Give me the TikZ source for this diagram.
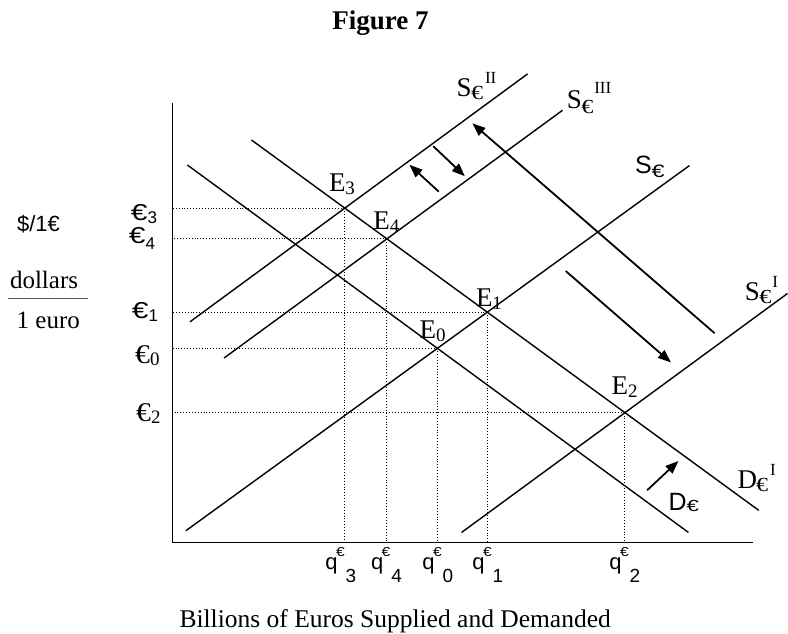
\documentclass[tikz,border=0pt]{standalone}
\usepackage{fontspec}
\usepackage{graphicx}
\setmainfont{Liberation Serif}
\newfontfamily\arialf{Liberation Sans}
\usetikzlibrary{arrows.meta}
\newcommand\myfs[1]{\fontsize{#1}{#1}\selectfont}
\newcommand\weur[1]{\scalebox{#1}[1]{€}}
\newcommand\qlab[1]{{\myfs{22}q}\kern-1.5pt\raisebox{12.8pt}{\myfs{13}\weur{1.2}}\kern1pt\raisebox{-13pt}{\myfs{19}#1}}
\begin{document}
\begin{tikzpicture}[x=1pt,y=-1pt,
  curve/.style={line width=1.4pt},
  axisline/.style={line width=1.6pt},
  guide/.style={line width=0.9pt,dotted},
  shiftarrow/.style={line width=1.8pt,-{Triangle[length=13pt,width=10pt]}},
  lbl/.style={inner sep=0pt,outer sep=0pt},
  serif/.style={lbl,font=\myfs{27}},
  sans/.style={lbl,font=\arialf\myfs{23}},
  qstyle/.style={lbl,anchor=base west,font=\arialf}]
\useasboundingbox (0,0) rectangle (788,634);
% axes
\coordinate (Ytop) at (172.3,103);
\coordinate (O) at (172.3,542.5);
\coordinate (Xend) at (753,542.5);
\draw[axisline] (Ytop) -- (O) -- (Xend);
% curve end points
\coordinate (S0a) at (185.9,530.7); \coordinate (S0b) at (689.4,165.6);
\coordinate (S2a) at (190,321.8);   \coordinate (S2b) at (527.6,73.9);
\coordinate (S3a) at (224.1,358);   \coordinate (S3b) at (562.5,110.3);
\coordinate (S1a) at (461.5,532.5); \coordinate (S1b) at (787.5,293.5);
\coordinate (D0a) at (187.4,165);   \coordinate (D0b) at (688.4,532.4);
\coordinate (D1a) at (251.5,140);   \coordinate (D1b) at (758.8,510.4);
% equilibria
\coordinate (E0) at (intersection of S0a--S0b and D0a--D0b);
\coordinate (E1) at (intersection of S0a--S0b and D1a--D1b);
\coordinate (E2) at (intersection of S1a--S1b and D1a--D1b);
\coordinate (E3) at (intersection of S2a--S2b and D1a--D1b);
\coordinate (E4) at (intersection of S3a--S3b and D1a--D1b);
% guides
\foreach \e in {E0,E1,E2,E3,E4}{
  \draw[guide] (\e) -- (\e -| O);
  \draw[guide] (\e) -- (\e |- O);
}
% curves
\draw[curve] (S0a) -- (S0b);
\draw[curve] (S2a) -- (S2b);
\draw[curve] (S3a) -- (S3b);
\draw[curve] (S1a) -- (S1b);
\draw[curve] (D0a) -- (D0b);
\draw[curve] (D1a) -- (D1b);
% shift arrows
\coordinate (A1t) at (714.6,333.2); \coordinate (A1h) at (472.4,123.4);
\coordinate (A2t) at (565.8,271.1); \coordinate (A2h) at (670.9,362.4);
\coordinate (A3t) at (438.7,191.6); \coordinate (A3h) at (409.5,164.8);
\coordinate (A4t) at (433.2,146.1); \coordinate (A4h) at (464.8,176.2);
\coordinate (A5t) at (647.2,490.2); \coordinate (A5h) at (678.4,461);
\draw[shiftarrow] (A1t) -- (A1h);
\draw[shiftarrow] (A2t) -- (A2h);
\draw[shiftarrow] (A3t) -- (A3h);
\draw[shiftarrow] (A4t) -- (A4h);
\draw[shiftarrow] (A5t) -- (A5h);
% title
\node[lbl,anchor=base,font=\bfseries\myfs{27}] (title) at (380.5,29.5) {Figure 7};
% curve labels
\node[serif,anchor=base west] (lS2) at (456.5,96.2) {S\kern-0.5pt\raisebox{-2.8pt}{\myfs{20}\weur{1.2}}\kern2pt\raisebox{12.7pt}{\myfs{17}II}};
\node[serif,anchor=base west] (lS3) at (566.8,108.3) {S\kern-0.5pt\raisebox{-5.5pt}{\myfs{20}\weur{1.2}}\kern1pt\raisebox{14.3pt}{\myfs{17}III}};
\node[serif,anchor=base west] (lS1) at (744.8,300) {S\kern-0.5pt\raisebox{-3.3pt}{\myfs{20}\weur{1.2}}\kern1pt\raisebox{12.7pt}{\myfs{17}I}};
\node[serif,anchor=base west] (lD1) at (737.5,488.3) {D\kern-1pt\raisebox{-3.5pt}{\myfs{20}\weur{1.2}}\kern2pt\raisebox{13pt}{\myfs{17}I}};
\node[lbl,anchor=base west,font=\arialf\myfs{25}] (lS0) at (635,173) {S\raisebox{-4pt}{\myfs{18}\weur{1.3}}};
\node[lbl,anchor=base west,font=\arialf\myfs{25}] (lD0) at (668.5,510) {D\raisebox{-1.7pt}{\myfs{16}\weur{1.4}}};
% equilibrium labels
\node[serif,anchor=base west] (lE3) at (329,191.7) {E\raisebox{-3pt}{\myfs{19}3}};
\node[serif,anchor=base west] (lE4) at (373.3,229.6) {E\raisebox{-3pt}{\myfs{19}4}};
\node[serif,anchor=base west] (lE1) at (476,306.4) {E\raisebox{-3pt}{\myfs{19}1}};
\node[serif,anchor=base west] (lE0) at (419.6,338.9) {E\raisebox{-3pt}{\myfs{19}0}};
\node[serif,anchor=base west] (lE2) at (611.7,394.6) {E\raisebox{-3pt}{\myfs{19}2}};
% price labels
\node[sans,anchor=base east] (p3) at (157,220) {\weur{1.3}\raisebox{-3.3pt}{\myfs{17}3}};
\node[sans,anchor=base east] (p4) at (155,243.3) {\weur{1.3}\raisebox{-6pt}{\myfs{17}4}};
\node[sans,anchor=base east] (p1) at (158,318.3) {\weur{1.3}\raisebox{-3.3pt}{\myfs{17}1}};
\node[serif,anchor=base east] (p0) at (159.5,363.3) {\weur{1.1}\raisebox{-2pt}{\myfs{19}0}};
\node[serif,anchor=base east] (p2) at (160.5,421.7) {\weur{1.1}\raisebox{-1.6pt}{\myfs{19}2}};
% quantity labels
\node[qstyle] (q3) at (325.3,569.5) {\qlab{3}};
\node[qstyle] (q4) at (371,569.5) {\qlab{4}};
\node[qstyle] (q0) at (422.3,569.5) {\qlab{0}};
\node[qstyle] (q1) at (472.3,569.5) {\qlab{1}};
\node[qstyle] (q2) at (609.3,569.5) {\qlab{2}};
% vertical axis caption
\node[lbl,font=\arialf\myfs{22}] (unit) at (38.5,224.5) {\$/1€};
\node[lbl,anchor=base west,font=\myfs{25}] (num) at (10,288.3) {dollars};
\node[lbl,anchor=base west,font=\myfs{25}] (den) at (16.7,328.3) {1 euro};
\coordinate (fl) at (8.3,298.3); \coordinate (fr) at (88.3,298.3);
\draw[line width=1.3pt,black!65] (fl) -- (fr);
% horizontal axis caption
\node[lbl,anchor=base west,font=\myfs{25.5}] (xcap) at (179.5,627.5) {Billions of Euros Supplied and Demanded};
\end{tikzpicture}
\end{document}
